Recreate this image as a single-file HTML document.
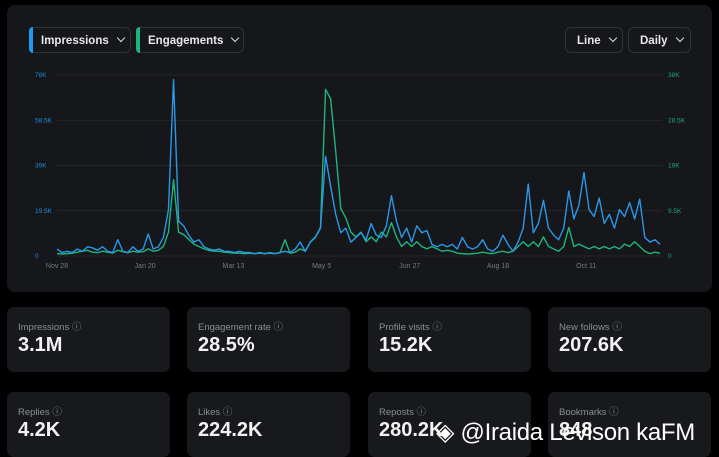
<!DOCTYPE html>
<html><head><meta charset="utf-8"><style>
body{margin:0;width:719px;height:457px;background:#000;overflow:hidden;font-family:"Liberation Sans",sans-serif;position:relative}
.panel{position:absolute;left:7px;top:5px;width:705px;height:287px;background:#16171b;border-radius:8px}
.btn{position:absolute;top:27px;height:26px;border:1px solid #2f3136;border-radius:6px;box-sizing:border-box;color:#e8e8e8;font-weight:bold;font-size:11.5px;line-height:26px;padding-left:11px;white-space:nowrap}
.btn .bar{position:absolute;left:-1px;top:-1px;bottom:-1px;width:4px;border-radius:6px 0 0 6px}
.chev{display:inline-block;width:5px;height:5px;border-right:1.3px solid #ddd;border-bottom:1.3px solid #ddd;transform:rotate(45deg);margin-left:9px;position:relative;top:-3px}
.card{position:absolute;width:163px;height:65px;background:#18191c;border-radius:7px}
.card .l{position:absolute;left:11px;top:12px;color:#8b8e94;font-size:9.5px}
.card .v{position:absolute;left:11px;top:27px;color:#f2f2f2;font-size:20px;font-weight:bold}
svg text{font-family:"Liberation Sans",sans-serif}
</style></head><body>
<div class="panel"></div>
<div class="btn" style="left:29px;width:102px"><span class="bar" style="background:#1d9bf0"></span>Impressions<span class="chev"></span></div>
<div class="btn" style="left:136px;width:108px"><span class="bar" style="background:#1fb57a"></span>Engagements<span class="chev"></span></div>
<div class="btn" style="left:565px;width:58px">Line<span class="chev"></span></div>
<div class="btn" style="left:628px;width:63px">Daily<span class="chev"></span></div>
<svg id="chart" width="719" height="300" style="position:absolute;left:0;top:0"></svg>

<div class="card" style="left:7px;top:307px"><div class="l">Impressions ⓘ</div><div class="v">3.1M</div></div>
<div class="card" style="left:187px;top:307px"><div class="l">Engagement rate ⓘ</div><div class="v">28.5%</div></div>
<div class="card" style="left:368px;top:307px"><div class="l">Profile visits ⓘ</div><div class="v">15.2K</div></div>
<div class="card" style="left:548px;top:307px"><div class="l">New follows ⓘ</div><div class="v">207.6K</div></div>
<div class="card" style="left:7px;top:392px"><div class="l">Replies ⓘ</div><div class="v">4.2K</div></div>
<div class="card" style="left:187px;top:392px"><div class="l">Likes ⓘ</div><div class="v">224.2K</div></div>
<div class="card" style="left:368px;top:392px"><div class="l">Reposts ⓘ</div><div class="v">280.2K</div></div>
<div class="card" style="left:548px;top:392px"><div class="l">Bookmarks ⓘ</div><div class="v">848</div></div>
<div style="position:absolute;left:436px;top:418px;color:#fff;font-size:24px;white-space:nowrap;letter-spacing:-0.3px">◈ @Iraida Levison kaFM</div>
<script>
const xLabels=["Nov 28","Jan 20","Mar 13","May 5","Jun 27","Aug 18","Oct 11"];
const leftTicks=["0","19.5K","39K","58.5K","78K"];
const rightTicks=["0","9.5K","19K","28.5K","38K"];
const impressions=[3,1.5,2,1.5,3,2,4,3.5,2.5,4,2,1.5,7,2,1.5,4,2,3,9.5,3,4,8,20,76,15,13,9,6,7,4,3,2.5,3,2,2,1.5,2,1.5,1.5,1,1.5,1,1.5,1,1.5,2,1.5,3,6,2,6,8,12,43,30,18,10,12,6,8,10,7,14,9,8,13,26,15,8,12,6,13,10,11,5,4,5,4,5,3,8,4,3,4,7,3,2,4,9,5,2,6,12,31,10,14,24,12,9,7,12,28,16,22,36,20,17,25,14,18,12,20,17,23,16,24.5,8,6,7,5];
const engagements=[0.5,0.4,0.5,0.6,0.8,1,1.2,0.8,0.7,1,0.8,0.6,1.2,0.9,0.7,1,0.8,0.9,1.5,1,1.2,2,5,16,5,4.5,3.5,2.5,2,1.5,1.2,1,1,0.8,0.7,0.6,0.6,0.5,0.6,0.5,0.6,0.5,0.6,0.5,0.7,3.4,0.6,0.8,1.5,1,3,4,6,35,33,22,10,8,5,4,5,3,4,3,5,4,7,4,2,3,2,3,2,1.5,2,1.5,1,1.2,1,0.6,0.5,0.4,0.5,0.6,0.8,0.6,0.5,0.8,1,0.7,1,2,3,2,3,2,4,2,1.5,1,2,6,2,2.5,2,1.5,2,1.5,2,1.5,2,1.5,2.5,2,3,2,1,0.5,0.8,0.6];
const NS="http://www.w3.org/2000/svg";
const svg=document.getElementById('chart');
const x0=57,x1=660,yBase=256,yTop=75;
const xScale=i=>x0+(x1-x0)*i/(impressions.length-1);
const yL=v=>yBase-(yBase-yTop)*v/78;
const yR=v=>yBase-(yBase-yTop)*v/38;
function mk(tag,attrs){const e=document.createElementNS(NS,tag);for(const k in attrs)e.setAttribute(k,attrs[k]);svg.appendChild(e);return e;}
leftTicks.forEach((t,i)=>{
  const y=yBase-(yBase-yTop)*i/4;
  const g=mk('line',{x1:57,x2:662,y1:y,y2:y,stroke:'#2b2d31','stroke-width':0.8});
  
  
  const a=mk('text',{x:35,y:y+2,fill:'#1d8fe0','font-size':6.5});a.textContent=t;
  
  
  const b=mk('text',{x:668,y:y+2,fill:'#1fa872','font-size':6.5});b.textContent=rightTicks[i];
  
  
});
xLabels.forEach((t,i)=>{
  const e=mk('text',{x:57+88.2*i,y:268,fill:'#777a80','font-size':7,'text-anchor':'middle'});e.textContent=t;
  
  
});
const pg=mk('polyline',{points:engagements.map((v,i)=>xScale(i)+','+yR(v)).join(' '),fill:'none',stroke:'#1fb57a','stroke-width':1.4,'stroke-linejoin':'round'});


const pb=mk('polyline',{points:impressions.map((v,i)=>xScale(i)+','+yL(v)).join(' '),fill:'none',stroke:'#2a97e8','stroke-width':1.4,'stroke-linejoin':'round'});


</script>
</body></html>
